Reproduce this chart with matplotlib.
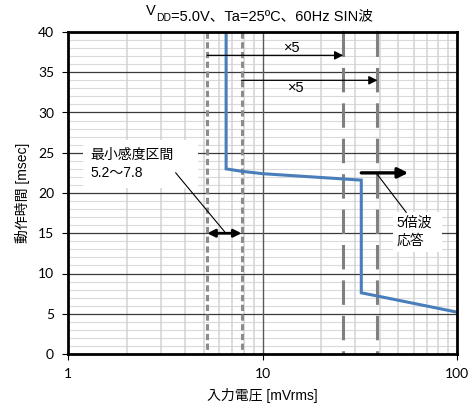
import matplotlib
matplotlib.use("Agg")
import matplotlib.pyplot as plt
from matplotlib.patches import Rectangle
from matplotlib.ticker import FixedLocator, NullFormatter

plt.rcParams['font.family'] = ['Liberation Sans', 'Noto Sans CJK JP']
plt.rcParams['lines.scale_dashes'] = False

# Response curve: input voltage [mVrms] vs. operating time [msec]
voltage = [6.5, 6.5, 7.8, 10.0, 32.2, 32.2, 39.0, 100.0]
op_time = [40.0, 23.0, 22.7, 22.4, 21.6, 7.6, 7.2, 5.2]

# Minimum sensitivity band and its 5x counterparts
band = [5.2, 7.8]
band_x5 = [26.0, 39.0]

x_ticks = [1, 10, 100]
x_tick_labels = ['1', '10', '100']
y_ticks = [0, 5, 10, 15, 20, 25, 30, 35, 40]

fig = plt.figure(figsize=(4.76, 4.08), dpi=100)
ax = fig.add_axes([68/476, 1-354/408, (457-68)/476, (354-32)/408])
ax.set_xscale('log')
ax.set_xlim(1, 100)
ax.set_ylim(0, 40)

# grid
for v in range(1, 40):
    if v % 5:
        ax.axhline(v, color='#dadada', lw=0.8, zorder=1)
for v in range(5, 40, 5):
    ax.axhline(v, color='#3a3a3a', lw=0.9, zorder=1.2)
for d in (1, 10):
    for m in range(2, 10):
        ax.axvline(d*m, color='#d3d3d3', lw=1.1, zorder=1.1)
ax.axvline(10, color='#595959', lw=1.0, zorder=1.2)

# sensitivity band lines
for xv in band:
    ax.plot([xv, xv], [40, 0], color='#8c8c8c', lw=2.2,
            dashes=(4.5, 2.5), solid_capstyle='butt', zorder=2)
for xv in band_x5:
    ax.plot([xv, xv], [40, 0], color='#808080', lw=2.2,
            dashes=(17.6, 7.9), dash_capstyle='butt', zorder=2)
    ax.plot([xv], [40], marker='o', ms=2.5, color='#808080', mec='none',
            zorder=2, clip_on=False)

# curve
ax.plot(voltage, op_time, color='#4a7ebb', lw=2.2, zorder=3,
        solid_joinstyle='miter')

# x5 arrows
ax.annotate('', xy=(band_x5[0], 37.1), xytext=(band[0], 37.1),
            arrowprops=dict(arrowstyle='-|>', lw=0.9, color='black',
                            mutation_scale=13, shrinkA=0, shrinkB=0), zorder=4)
ax.text(14.3, 38.0, '×5', ha='center', va='center', fontsize=10.5, zorder=4)
ax.annotate('', xy=(band_x5[1], 34.0), xytext=(band[1], 34.0),
            arrowprops=dict(arrowstyle='-|>', lw=0.9, color='black',
                            mutation_scale=13, shrinkA=0, shrinkB=0), zorder=4)
ax.text(14.9, 33.0, '×5', ha='center', va='center', fontsize=10.5, zorder=4)

# minimum sensitivity band
ax.annotate('', xy=(band[1], 15.0), xytext=(band[0], 15.0),
            arrowprops=dict(arrowstyle='<|-|>', lw=2.0, color='black',
                            mutation_scale=11, shrinkA=0, shrinkB=0), zorder=4)
ax.add_patch(Rectangle((1.194, 20.6), 4.64-1.194, 26.6-20.6,
                       facecolor='white', edgecolor='none', zorder=4))
ax.text(1.30, 23.6, '最小感度区間\n5.2〜7.8', ha='left', va='center',
        fontsize=10, linespacing=1.35, zorder=5)
ax.plot([3.58, 6.38], [22.5, 15.2], color='black', lw=0.8, zorder=5)

# 5th harmonic response
ax.annotate('', xy=(56.1, 22.5), xytext=(32.2, 22.5),
            arrowprops=dict(arrowstyle='-|>', lw=2.4, color='black',
                            mutation_scale=15, shrinkA=0, shrinkB=0), zorder=4)
ax.add_patch(Rectangle((47.0, 12.7), 84.0-47.0, 17.6-12.7,
                       facecolor='white', edgecolor='none', zorder=4))
ax.text(49.0, 15.2, '5倍波\n応答', ha='left', va='center',
        fontsize=10, linespacing=1.35, zorder=5)
ax.plot([38.4, 54.8], [22.5, 17.6], color='black', lw=0.8, zorder=5)

# axes
for s in ax.spines.values():
    s.set_linewidth(2.0)
    s.set_color('black')
    s.set_zorder(6)
ax.xaxis.set_major_locator(FixedLocator(x_ticks))
ax.set_xticklabels(x_tick_labels)
ax.xaxis.set_minor_locator(FixedLocator([]))
ax.xaxis.set_minor_formatter(NullFormatter())
ax.set_yticks(y_ticks)
ax.tick_params(axis='both', which='major', length=4, width=0.8,
               labelsize=10, pad=6, colors='black')
for lab in ax.get_xticklabels() + ax.get_yticklabels():
    lab.set_family(['Lato', 'Liberation Sans'])
ax.set_xlabel('入力電圧 [mVrms]', fontsize=10, labelpad=6)
ax.set_ylabel('動作時間 [msec]', fontsize=10, labelpad=6)

# title with subscript
t1 = fig.text(146/476, 1-15/408, 'V', fontsize=10.5, va='baseline', ha='left')
t2 = ax.annotate('DD', xy=(1, 0), xycoords=t1, xytext=(0, -2.5),
                 textcoords='offset points', fontsize=7.5, va='baseline',
                 ha='left', annotation_clip=False)
ax.annotate('=5.0V、Ta=25ºC、60Hz SIN波', xy=(1, 0), xycoords=t2,
            xytext=(0, 2.5), textcoords='offset points', fontsize=10.5,
            va='baseline', ha='left', annotation_clip=False)

fig.savefig('out.png', dpi=100)
